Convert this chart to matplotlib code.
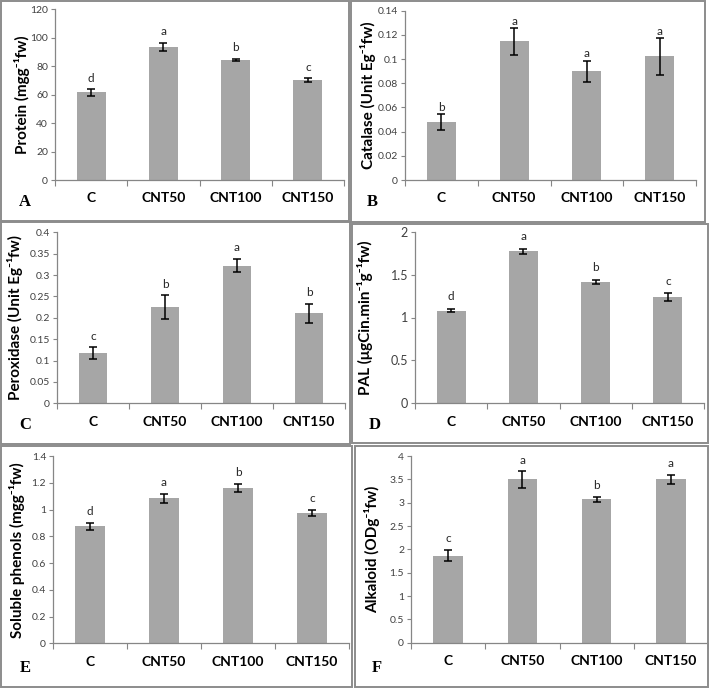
import matplotlib
matplotlib.use("Agg")
import matplotlib.pyplot as plt
from matplotlib.patches import Rectangle
from matplotlib.ticker import MultipleLocator, FuncFormatter

W, H = 709, 688
BAR_COLOR = "#A6A6A6"
AXIS_COLOR = "#868686"
FRAME_COLOR = "#8C8C8C"
SANS = ["Lato", "DejaVu Sans"]

categories = ["C", "CNT50", "CNT100", "CNT150"]

protein = [61.6, 93.7, 84.4, 70.3]
protein_err = [2.2, 2.7, 0.8, 1.3]
protein_grp = ["d", "a", "b", "c"]

catalase = [0.0477, 0.1146, 0.0898, 0.1022]
catalase_err = [0.0066, 0.011, 0.0088, 0.015]
catalase_grp = ["b", "a", "a", "a"]

peroxidase = [0.117, 0.225, 0.322, 0.2105]
peroxidase_err = [0.014, 0.028, 0.016, 0.022]
peroxidase_grp = ["c", "b", "a", "b"]

pal = [1.08, 1.77, 1.41, 1.235]
pal_err = [0.02, 0.027, 0.025, 0.045]
pal_grp = ["d", "a", "b", "c"]

phenols = [0.875, 1.084, 1.163, 0.972]
phenols_err = [0.025, 0.035, 0.031, 0.024]
phenols_grp = ["d", "a", "b", "c"]

alkaloid = [1.865, 3.5, 3.07, 3.5]
alkaloid_err = [0.125, 0.175, 0.06, 0.1]
alkaloid_grp = ["c", "a", "b", "a"]

# panel layout in pixels: frame (x0, y0, x1, y1), plot area (left, right, top, bottom)
panels = [
    dict(tag="A", vals=protein, err=protein_err, grp=protein_grp,
         ylabel="Protein (mgg\u207b\u00b9fw)", ymax=120, step=20,
         frame=(1, 1, 349, 221), area=(55, 344, 9.3, 180), lab_dx=33,
         tag_xy=(25, 202), let_off=4, tick_fs=7.5),
    dict(tag="B", vals=catalase, err=catalase_err, grp=catalase_grp,
         ylabel="Catalase (Unit Eg\u207b\u00b9fw)", ymax=0.14, step=0.02,
         frame=(351, 1, 705, 222), area=(405, 696, 10.7, 180), lab_dx=37,
         tag_xy=(372, 202), let_off=1, tick_fs=7.5),
    dict(tag="C", vals=peroxidase, err=peroxidase_err, grp=peroxidase_grp,
         ylabel="Peroxidase (Unit Eg\u207b\u00b9fw)", ymax=0.4, step=0.05,
         frame=(1, 222, 350, 444), area=(57, 345, 232.3, 403.3), lab_dx=42,
         tag_xy=(25, 425), let_off=4, tick_fs=7.5),
    dict(tag="D", vals=pal, err=pal_err, grp=pal_grp,
         ylabel="PAL (\u03bcgCin.min\u207b\u00b9g\u207b\u00b9fw)", ymax=2, step=0.5,
         frame=(352, 224, 708, 443), area=(415, 704, 231.7, 403.3), lab_dx=50,
         tag_xy=(375, 425), let_off=5, tick_fs=9),
    dict(tag="E", vals=phenols, err=phenols_err, grp=phenols_grp,
         ylabel="Soluble phenols (mgg\u207b\u00b9fw)", ymax=1.4, step=0.2,
         frame=(1, 446, 352, 687), area=(53, 349, 456, 643.3), lab_dx=36,
         tag_xy=(25, 668), let_off=4, tick_fs=7.5),
    dict(tag="F", vals=alkaloid, err=alkaloid_err, grp=alkaloid_grp,
         ylabel="Alkaloid (ODg\u207b\u00b9fw)", ymax=4, step=0.5,
         frame=(355, 446, 708, 687), area=(411, 708, 456, 642.7), lab_dx=39,
         tag_xy=(377, 668), let_off=4, tick_fs=7.5),
]

fig = plt.figure(figsize=(W / 100, H / 100), dpi=100)
fig.patch.set_facecolor("white")

for p in panels:
    # frame around each sub-figure
    x0, y0, x1, y1 = p["frame"]
    fig.add_artist(Rectangle((x0 / W, 1 - y1 / H), (x1 - x0) / W, (y1 - y0) / H,
                             transform=fig.transFigure, fill=False,
                             edgecolor=FRAME_COLOR, lw=1.4))

    left, right, top, bottom = p["area"]
    ax = fig.add_axes([left / W, 1 - bottom / H, (right - left) / W, (bottom - top) / H])
    xs = range(len(categories))
    ax.bar(xs, p["vals"], width=0.4, color=BAR_COLOR, zorder=2)
    ax.errorbar(xs, p["vals"], yerr=p["err"], fmt="none", ecolor="black",
                elinewidth=1.1, capsize=3, capthick=1.1, zorder=3)
    for x, v, e, g in zip(xs, p["vals"], p["err"], p["grp"]):
        ax.annotate(g, (x, v + e), xytext=(0, p["let_off"]), textcoords="offset points",
                    ha="center", va="bottom", fontsize=8.5, color="#262626",
                    family=SANS)

    ax.set_xlim(-0.5, len(categories) - 0.5)
    ax.set_ylim(0, p["ymax"])
    for s in ("top", "right"):
        ax.spines[s].set_visible(False)
    for s in ("left", "bottom"):
        ax.spines[s].set_color(AXIS_COLOR)
        ax.spines[s].set_linewidth(0.9)

    ax.yaxis.set_major_locator(MultipleLocator(p["step"]))
    ax.yaxis.set_major_formatter(FuncFormatter(lambda v, pos: f"{round(v, 4):g}"))
    ax.tick_params(axis="y", direction="out", length=3, width=0.8, color=AXIS_COLOR,
                   labelsize=p["tick_fs"], labelcolor="#404040", pad=2)
    for t in ax.get_yticklabels():
        t.set_family(SANS)

    ax.set_xticks(list(xs))
    ax.set_xticks([i - 0.5 for i in range(len(categories) + 1)], minor=True)
    ax.set_xticklabels(categories, fontsize=10, fontweight="bold", family=SANS)
    ax.tick_params(axis="x", which="major", length=0, pad=9)
    ax.tick_params(axis="x", which="minor", direction="out", length=4, width=0.8,
                   color=AXIS_COLOR)

    ax.set_ylabel(p["ylabel"], fontsize=11, fontweight="bold", family=SANS, va="center")
    ax.yaxis.set_label_coords(-p["lab_dx"] / (right - left), 0.5)

    tx, ty = p["tag_xy"]
    fig.text(tx / W, 1 - ty / H, p["tag"], ha="center", va="center", fontsize=12,
             fontweight="bold", family="Liberation Serif")

fig.savefig("out.png", dpi=100)
